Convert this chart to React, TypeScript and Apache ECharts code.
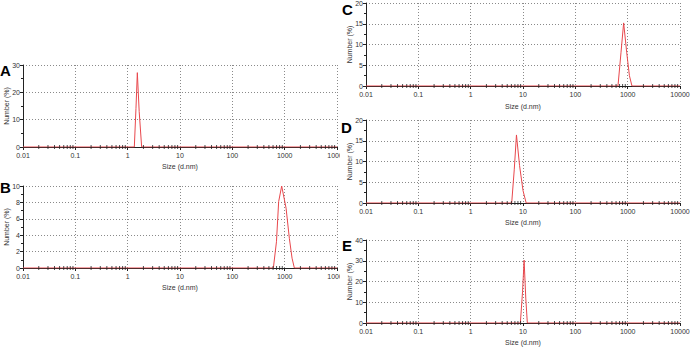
import React, { useEffect, useRef } from 'react';
import * as echarts from 'echarts';

// Panel A
const sizesA = [1.34, 1.44, 1.53, 1.66, 1.85];
const valuesA = [0, 14, 27.2, 13, 0];
// Panel B
const sizesB = [608, 697, 768, 877, 1064, 1230, 1384, 1531];
const valuesB = [0, 3.2, 8.1, 10, 7.3, 3.6, 1.2, 0];
// Panel C
const sizesC = [653, 745, 838, 960, 1080, 1208];
const valuesC = [0, 8, 15.2, 8, 2.5, 0];
// Panel D
const sizesD = [6.08, 6.8, 7.5, 8.6, 10, 11.5];
const valuesD = [0, 8, 16.4, 9, 3, 0];
// Panel E
const sizesE = [8.9, 9.8, 10.5, 11.3, 12.1];
const valuesE = [0, 15, 30.3, 12, 0];

const X_MIN = 0.01;
const X_MAX = 10000;
const DECADES = [0.01, 0.1, 1, 10, 100, 1000];
const MINOR_MULTS = [2, 3, 4, 5, 6, 7, 8, 9];

const RED = '#e8474c';
const AXIS = '#222';
const TEXT = '#333';
const FONT = '"Liberation Sans", Arial, sans-serif';

type Panel = {
  grid: { left: number; top: number; width: number; height: number };
  yMax: number;
  yInterval: number;
  sizes: number[];
  values: number[];
  nameGapX: number;
};

function buildOption(panels: Panel[], letters: { text: string; x: number; y: number }[]) {
  const grid: any[] = [];
  const xAxis: any[] = [];
  const yAxis: any[] = [];
  const series: any[] = [];
  const minorTickData: number[][] = [];
  DECADES.forEach((d) => MINOR_MULTS.forEach((m) => minorTickData.push([d * m, 0])));

  panels.forEach((p, i) => {
    grid.push({ ...p.grid, containLabel: false, outerBoundsMode: 'none', show: false });
    xAxis.push({
      gridIndex: i,
      type: 'log',
      logBase: 10,
      min: X_MIN,
      max: X_MAX,
      splitNumber: 6,
      axisLine: { show: true, lineStyle: { color: AXIS, width: 1 } },
      axisTick: { show: true, length: 3, lineStyle: { color: AXIS } },
      axisLabel: {
        fontSize: 7,
        color: TEXT,
        fontFamily: FONT,
        margin: 5,
        showMinLabel: true,
        showMaxLabel: true,
        hideOverlap: false,
        formatter: (v: number) => String(Number(v.toPrecision(3))),
      },
      splitLine: { show: true, lineStyle: { type: [1, 2], color: '#8a8a8a', width: 1 } },
      name: 'Size (d.nm)',
      nameLocation: 'middle',
      nameGap: p.nameGapX,
      nameMoveOverlap: false,
      nameTextStyle: { fontSize: 7, color: TEXT, fontFamily: FONT },
    });
    yAxis.push({
      gridIndex: i,
      type: 'value',
      min: 0,
      max: p.yMax,
      interval: p.yInterval,
      axisLine: { show: true, lineStyle: { color: AXIS, width: 1 } },
      axisTick: { show: true, length: 3, lineStyle: { color: AXIS } },
      minorTick: { show: true, splitNumber: 2, length: 2, lineStyle: { color: AXIS } },
      axisLabel: { fontSize: 7, color: TEXT, fontFamily: FONT, margin: 3 },
      splitLine: { show: true, lineStyle: { type: [1, 2], color: '#8a8a8a', width: 1 } },
      name: 'Number (%)',
      nameLocation: 'middle',
      nameGap: 13,
      nameMoveOverlap: false,
      nameTextStyle: { fontSize: 7, color: TEXT, fontFamily: FONT },
    });
    const data: number[][] = [[X_MIN, 0]];
    p.sizes.forEach((s, k) => data.push([s, p.values[k]]));
    data.push([X_MAX, 0]);
    series.push({
      type: 'line',
      xAxisIndex: i,
      yAxisIndex: i,
      data,
      showSymbol: false,
      symbol: 'none',
      lineStyle: { color: RED, width: 1 },
      z: 3,
      silent: true,
    });
    series.push({
      type: 'scatter',
      xAxisIndex: i,
      yAxisIndex: i,
      data: minorTickData,
      symbol: 'rect',
      symbolSize: [1, 4],
      itemStyle: { color: AXIS },
      z: 5,
      silent: true,
    });
  });

  return {
    animation: false,
    textStyle: { fontFamily: FONT },
    grid,
    xAxis,
    yAxis,
    series,
    graphic: letters.map((l) => ({
      type: 'text',
      left: l.x,
      top: l.y,
      style: { text: l.text, font: `bold 15px ${FONT}`, fill: '#000' },
    })),
  };
}

export default function App() {
  const leftRef = useRef<HTMLDivElement>(null);
  const rightRef = useRef<HTMLDivElement>(null);

  useEffect(() => {
    document.body.style.margin = '0';
    const left = echarts.init(leftRef.current!, undefined, { renderer: 'svg' });
    const right = echarts.init(rightRef.current!, undefined, { renderer: 'svg' });
    left.setOption(
      buildOption(
        [
          { grid: { left: 23, top: 65, width: 314, height: 82 }, yMax: 30, yInterval: 10, sizes: sizesA, values: valuesA, nameGapX: 16 },
          { grid: { left: 23, top: 186, width: 314, height: 82 }, yMax: 10, yInterval: 2, sizes: sizesB, values: valuesB, nameGapX: 16 },
        ],
        [
          { text: 'A', x: 0, y: 63 },
          { text: 'B', x: 0, y: 180 },
        ]
      )
    );
    right.setOption(
      buildOption(
        [
          { grid: { left: 26, top: 3, width: 314, height: 83 }, yMax: 20, yInterval: 5, sizes: sizesC, values: valuesC, nameGapX: 17 },
          { grid: { left: 26, top: 120, width: 314, height: 83 }, yMax: 20, yInterval: 5, sizes: sizesD, values: valuesD, nameGapX: 16 },
          { grid: { left: 26, top: 240, width: 314, height: 83 }, yMax: 40, yInterval: 10, sizes: sizesE, values: valuesE, nameGapX: 16 },
        ],
        [
          { text: 'C', x: 2, y: 2 },
          { text: 'D', x: 1, y: 120 },
          { text: 'E', x: 2, y: 238 },
        ]
      )
    );
    return () => {
      left.dispose();
      right.dispose();
    };
  }, []);

  return (
    <div style={{ position: 'relative', width: 697, height: 347, background: '#fff', overflow: 'hidden' }}>
      <div style={{ position: 'absolute', left: 0, top: 0, width: 340, height: 347, overflow: 'hidden' }}>
        <div ref={leftRef} style={{ width: 360, height: 347 }} />
      </div>
      <div style={{ position: 'absolute', left: 340, top: 0, width: 357, height: 347, overflow: 'hidden' }}>
        <div ref={rightRef} style={{ width: 357, height: 347 }} />
      </div>
    </div>
  );
}
